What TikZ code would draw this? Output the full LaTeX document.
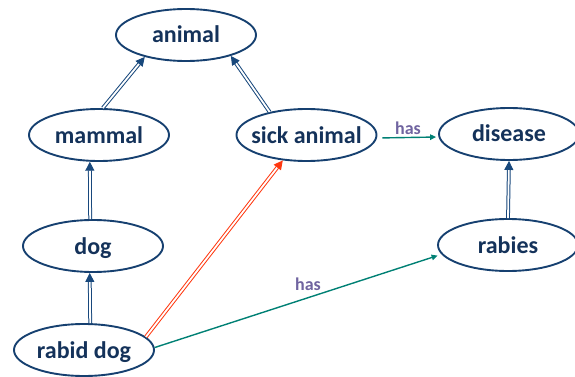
\documentclass[tikz,border=0pt]{standalone}
\usepackage{fontspec}
\setmainfont{Carlito}
\usetikzlibrary{shapes.geometric,arrows.meta,calc}
\definecolor{nodeblue}{RGB}{22,64,112}
\definecolor{textblue}{RGB}{20,50,90}
\definecolor{edgeblue}{RGB}{24,72,124}
\definecolor{redarr}{RGB}{255,56,16}
\definecolor{tealarr}{RGB}{0,128,116}
\definecolor{haspurple}{RGB}{112,100,160}
\begin{document}
\begin{tikzpicture}[x=1pt,y=-1pt,
  concept/.style={ellipse, draw=nodeblue, line width=1.9pt, minimum width=140pt, minimum height=52pt, inner sep=0pt,
    font=\fontsize{24}{28}\selectfont\bfseries, text=textblue, text height=21pt, text depth=5pt},
  isa/.style={draw=edgeblue, double=white, line width=1pt, double distance=1.8pt, -{Triangle[length=9pt,width=9pt]}},
  isared/.style={draw=redarr, double=white, line width=1pt, double distance=1.8pt, -{Triangle[length=9pt,width=9pt]}},
  hasarr/.style={draw=tealarr, line width=1.4pt, -{Triangle[length=6pt,width=5.5pt]}},
  haslabel/.style={font=\fontsize{18}{20}\selectfont\bfseries, text=haspurple, inner sep=0pt}]
\useasboundingbox (0,0) rectangle (575,377);
\node[concept] (animal) at (186,35) {animal};
\node[concept] (mammal) at (99,135) {mammal};
\node[concept] (sick) at (306.5,135) {\makebox[0pt][c]{sick animal}};
\node[concept] (disease) at (509,134) {disease};
\node[concept] (dog) at (93,246) {dog};
\node[concept] (rabies) at (508,245) {rabies};
\node[concept] (rabid) at (84,350) {rabid dog};
\draw[isa] (mammal.82) -- (animal.208);
\draw[isa] (sick.148) -- (animal.335);
\draw[isa] (dog.96.3) -- (mammal.251.6);
\draw[isa] (rabid.77) -- (dog.263.7);
\draw[isa] (rabies.north) -- (disease.south);
\draw[isared] (rabid.12.6) -- (sick.227.7);
\draw[hasarr, shorten <=5pt, shorten >=2pt] ([yshift=-3pt]sick.east) -- ([yshift=-3pt]disease.west);
\draw[hasarr, shorten >=4pt] (rabid.2) -- (rabies.188.7);
\node[haslabel] (has1) at (408,128) {has};
\node[haslabel] (has2) at (308,284) {has};
\end{tikzpicture}
\end{document}
